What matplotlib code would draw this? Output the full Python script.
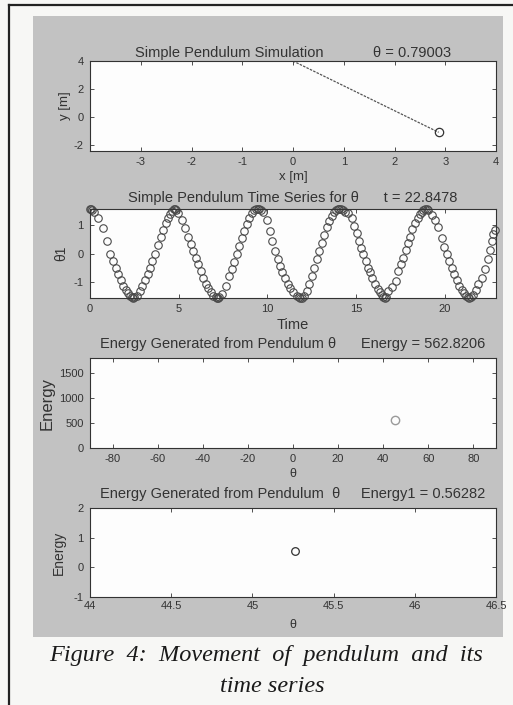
import matplotlib
matplotlib.use("Agg")
import matplotlib.pyplot as plt
from matplotlib.patches import Rectangle
from matplotlib.lines import Line2D

plt.rcParams['font.family'] = ['Liberation Sans', 'DejaVu Sans']
plt.rcParams['axes.unicode_minus'] = False

# ---------------- data ----------------
pendulum_x = [0.0, 2.87]
pendulum_y = [4.0, -1.07]
theta_title = "0.79003"

time_s = [0.0, 0.05, 0.12, 0.25, 0.47, 0.75, 0.94, 1.13, 1.31, 1.45, 1.60, 1.75, 1.88, 2.01, 2.16, 2.28, 2.35, 2.42, 2.50,
          2.63, 2.82, 2.95, 3.10, 3.25, 3.38, 3.52, 3.67, 3.82, 4.00, 4.14, 4.27, 4.42, 4.51, 4.64, 4.72, 4.79, 4.86,
          4.98, 5.21, 5.36, 5.55, 5.70, 5.83, 5.96, 6.11, 6.26, 6.39, 6.53, 6.67, 6.82, 6.95, 7.08, 7.15, 7.22, 7.30,
          7.43, 7.65, 7.84, 7.99, 8.14, 8.27, 8.40, 8.55, 8.70, 8.84, 8.97, 9.12, 9.27, 9.38, 9.46, 9.55, 9.64,
          9.78, 9.96, 10.15, 10.28, 10.43, 10.59, 10.72, 10.85, 11.00, 11.15, 11.28, 11.47, 11.66, 11.78, 11.86, 11.94, 12.05,
          12.22, 12.35, 12.50, 12.65, 12.79, 12.92, 13.07, 13.22, 13.35, 13.48, 13.63, 13.78, 13.90, 13.97, 14.05, 14.16, 14.28, 14.40,
          14.57, 14.76, 14.90, 15.04, 15.17, 15.28, 15.42, 15.55, 15.66, 15.79, 15.92, 16.07, 16.23, 16.36, 16.46, 16.54, 16.62, 16.70,
          16.83, 17.01, 17.24, 17.39, 17.54, 17.67, 17.80, 17.92, 18.05, 18.18, 18.33, 18.48, 18.61, 18.72, 18.80, 18.90, 18.99, 19.08,
          19.31, 19.46, 19.61, 19.84, 19.98, 20.12, 20.25, 20.40, 20.55, 20.68, 20.81, 20.96, 21.11, 21.22, 21.30, 21.38, 21.49,
          21.62, 21.75, 21.90, 22.09, 22.28, 22.43, 22.56, 22.66, 22.75, 22.85]
theta1 = [1.57, 1.57, 1.55, 1.45, 1.24, 0.90, 0.43, -0.03, -0.27, -0.50, -0.73, -0.94, -1.14, -1.29, -1.41, -1.50, -1.55, -1.57, -1.55,
          -1.49, -1.31, -1.14, -0.94, -0.73, -0.50, -0.27, -0.01, 0.31, 0.60, 0.84, 1.07, 1.24, 1.38, 1.50, 1.56, 1.57, 1.55,
          1.42, 1.18, 0.90, 0.60, 0.34, 0.08, -0.15, -0.38, -0.62, -0.85, -1.06, -1.22, -1.37, -1.49, -1.55, -1.57, -1.56, -1.52,
          -1.43, -1.14, -0.79, -0.56, -0.29, -0.03, 0.25, 0.55, 0.80, 1.03, 1.24, 1.42, 1.53, 1.56, 1.57, 1.56, 1.53,
          1.47, 1.18, 0.78, 0.43, 0.08, -0.21, -0.44, -0.67, -0.87, -1.06, -1.22, -1.37, -1.49, -1.55, -1.57, -1.56, -1.50,
          -1.34, -1.08, -0.79, -0.50, -0.21, 0.08, 0.37, 0.66, 0.92, 1.15, 1.33, 1.47, 1.54, 1.57, 1.57, 1.56, 1.53, 1.48,
          1.42, 1.24, 0.98, 0.72, 0.43, 0.20, -0.03, -0.27, -0.50, -0.67, -0.87, -1.06, -1.25, -1.37, -1.47, -1.55, -1.57, -1.55,
          -1.34, -1.20, -0.96, -0.62, -0.38, -0.15, 0.14, 0.37, 0.60, 0.87, 1.07, 1.24, 1.38, 1.47, 1.53, 1.57, 1.57, 1.55,
          1.36, 1.18, 0.95, 0.55, 0.22, -0.03, -0.27, -0.50, -0.73, -0.94, -1.14, -1.29, -1.41, -1.49, -1.55, -1.57, -1.54,
          -1.45, -1.29, -1.08, -0.85, -0.56, -0.21, 0.14, 0.45, 0.69, 0.84]
t_title = "22.8478"

energy_theta_deg = [45.265]
energy_value = [562.8206]
energy1_value = [0.56282]

x1_ticks = [-3, -2, -1, 0, 1, 2, 3, 4]
y1_ticks = [-2, 0, 2, 4]
x2_ticks = [0, 5, 10, 15, 20]
y2_ticks = [-1, 0, 1]
x3_ticks = [-80, -60, -40, -20, 0, 20, 40, 60, 80]
y3_ticks = [0, 500, 1000, 1500]
x4_ticks = [44, 44.5, 45, 45.5, 46, 46.5]
x4_labels = ['44', '44.5', '45', '45.5', '46', '46.5']
y4_ticks = [-1, 0, 1, 2]

W, H = 513, 705
fig = plt.figure(figsize=(W / 100, H / 100), dpi=100)
fig.patch.set_facecolor('#f7f7f5')

# gray MATLAB figure panel
fig.add_artist(Rectangle((33 / W, 1 - 637 / H), 470 / W, 621 / H,
                         transform=fig.transFigure, facecolor='#c2c2c2',
                         edgecolor='none', zorder=-5))
# page border lines
fig.add_artist(Line2D([9 / W, 9 / W], [0, 1 - 5 / H], transform=fig.transFigure,
                      color='#222222', lw=1.6, zorder=-4))
fig.add_artist(Line2D([9 / W, 1], [1 - 5 / H, 1 - 5 / H], transform=fig.transFigure,
                      color='#222222', lw=1.6, zorder=-4))

def make_ax(top, bottom):
    ax = fig.add_axes([90 / W, 1 - bottom / H, 406 / W, (bottom - top) / H])
    ax.set_zorder(1)
    ax.set_facecolor('#fdfdfd')
    ax.tick_params(direction='in', top=True, right=True, length=3, width=0.6,
                   labelsize=8, colors='#333333', pad=4.5)
    for s in ax.spines.values():
        s.set_linewidth(0.8)
        s.set_color('#333333')
    return ax

tc = '#333333'
title_fs = 10.5

# axes 1
ax1 = make_ax(61, 151)
ax1.plot(pendulum_x, pendulum_y, color='#555555', lw=0.9, ls=(0, (2, 1)))
ax1.plot(pendulum_x[1:], pendulum_y[1:], 'o', mfc='none', mec='#333333', ms=6, mew=0.9)
ax1.set_xlim(-4, 4)
ax1.set_ylim(-2.4, 4)
ax1.set_xticks(x1_ticks)
ax1.set_yticks(y1_ticks)
ax1.set_title("Simple Pendulum Simulation" + " " * 12 + "\u03b8 = " + theta_title,
              fontsize=title_fs, color=tc, pad=3)
ax1.set_xlabel("x [m]", fontsize=9.5, color=tc, labelpad=2.5)
ax1.set_ylabel("y [m]", fontsize=9.5, color=tc, labelpad=2)

# axes 2
ax2 = make_ax(209, 298)
ax2.plot(time_s, theta1, 'o', mfc='none', mec='#4a4a4a', ms=5.4, mew=0.8, clip_on=False)
ax2.set_xlim(0, 22.9)
ax2.set_ylim(-1.5708, 1.5708)
ax2.set_xticks(x2_ticks)
ax2.set_yticks(y2_ticks)
ax2.set_title("Simple Pendulum Time Series for \u03b8" + " " * 6 + "t = " + t_title,
              fontsize=title_fs, color=tc, pad=5)
ax2.set_xlabel("Time", fontsize=10.5, color=tc, labelpad=3)
ax2.set_ylabel("\u03b81", fontsize=10, color=tc, labelpad=4)

# axes 3
ax3 = make_ax(358, 448)
ax3.plot(energy_theta_deg, energy_value, 'o', mfc='none', mec='#9a9a9a', ms=6, mew=1.0)
ax3.set_xlim(-90, 90)
ax3.set_ylim(0, 1800)
ax3.set_xticks(x3_ticks)
ax3.set_yticks(y3_ticks)
ax3.set_title("Energy Generated from Pendulum \u03b8" + " " * 6 + "Energy = 562.8206",
              fontsize=title_fs, color=tc, pad=7.5)
ax3.set_xlabel("\u03b8", fontsize=9, color=tc, labelpad=3)
ax3.set_ylabel("Energy", fontsize=12, color=tc, labelpad=3)

# axes 4
ax4 = make_ax(508, 597)
ax4.plot(energy_theta_deg, energy1_value, 'o', mfc='none', mec='#333333', ms=5.5, mew=0.9)
ax4.set_xlim(44, 46.5)
ax4.set_ylim(-1, 2)
ax4.set_xticks(x4_ticks)
ax4.set_xticklabels(x4_labels)
ax4.set_yticks(y4_ticks)
ax4.tick_params(axis='x', pad=3)
ax4.set_title("Energy Generated from Pendulum  \u03b8" + " " * 5 + "Energy1 = 0.56282",
              fontsize=title_fs, color=tc, pad=7.5)
ax4.set_xlabel("\u03b8", fontsize=9, color=tc, labelpad=6)
ax4.set_ylabel("Energy", fontsize=10, color=tc, labelpad=6)

# caption
cap_kw = dict(family='Liberation Serif', style='italic', fontsize=17.5, color='#1a1a1a',
              ha='center', va='center')
fig.text(266 / W, 1 - 655 / H, "Figure  4:  Movement  of  pendulum  and  its", **cap_kw)
fig.text(272 / W, 1 - 687 / H, "time series", **cap_kw)

fig.savefig("out.png", dpi=100, facecolor=fig.get_facecolor())
